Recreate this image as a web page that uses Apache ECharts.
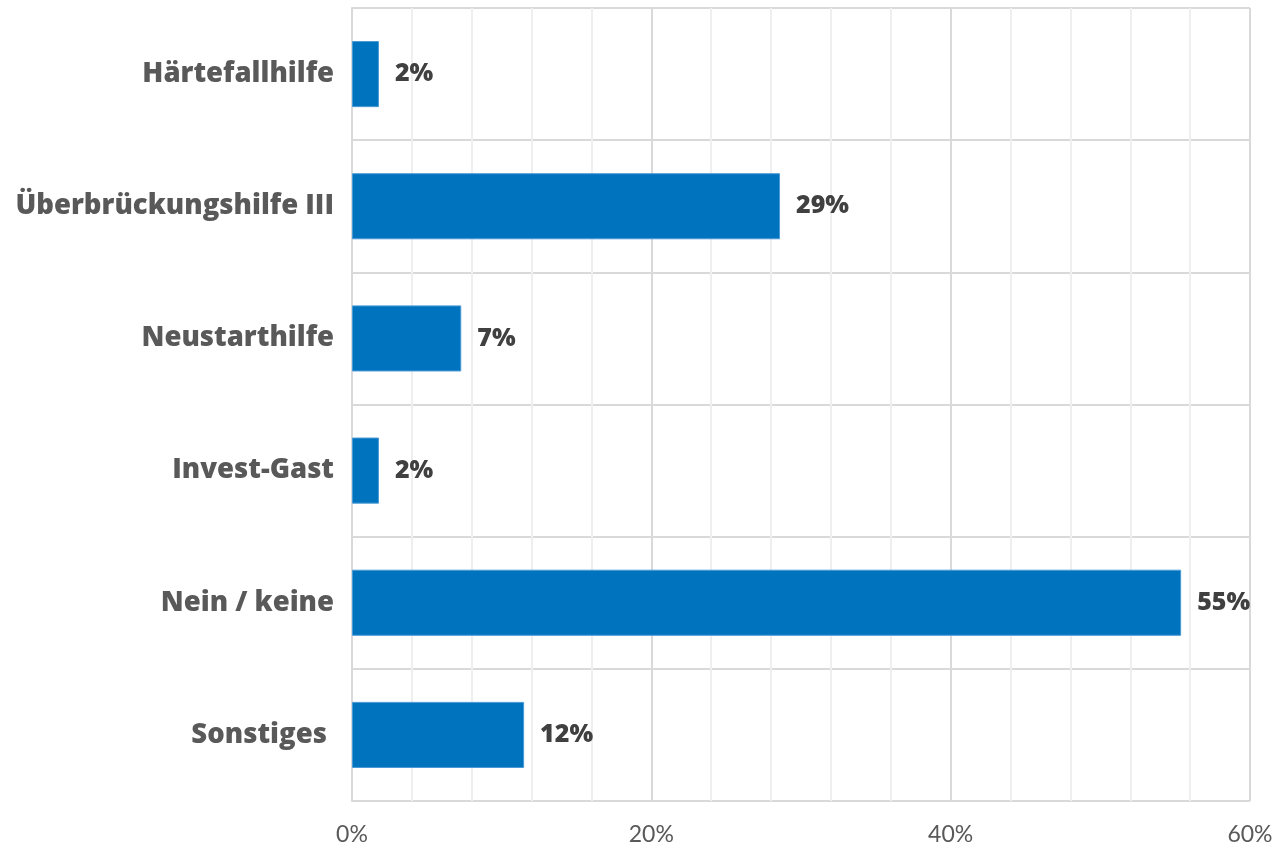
<!DOCTYPE html>
<html>
<head>
<meta charset="utf-8">
<script src="https://cdn.jsdelivr.net/npm/echarts@6/dist/echarts.min.js"></script>
<style>html,body{margin:0;padding:0;background:#fff}#c{width:1278px;height:846px}</style>
</head>
<body>
<div id="c"></div>
<script>
const categories = ["Härtefallhilfe", "Überbrückungshilfe III", "Neustarthilfe", "Invest-Gast", "Nein / keine", "Sonstiges "];
const values = [1.8, 28.6, 7.3, 1.8, 55.4, 11.5];
const axisMin = 0, axisMax = 60, axisInterval = 20;

const chart = echarts.init(document.getElementById('c'));
chart.setOption({
  animation: false,
  grid: { left: 352, right: 28, top: 8, bottom: 41, containLabel: false },
  xAxis: {
    type: 'value', min: axisMin, max: axisMax, interval: axisInterval,
    axisLine: { show: false }, axisTick: { show: false },
    axisLabel: { formatter: v => v + '%', color: '#595959', fontFamily: 'Lato', fontSize: 23, margin: 22 },
    splitLine: { show: true, lineStyle: { color: '#d9d9d9', width: 2 } },
    minorTick: { show: false, splitNumber: 5 },
    minorSplitLine: { show: true, lineStyle: { color: '#efefef', width: 2 } }
  },
  yAxis: {
    type: 'category', data: categories, inverse: true,
    axisLine: { show: true, lineStyle: { color: '#d9d9d9', width: 2 } },
    axisTick: { show: false },
    axisLabel: { color: '#595959', fontFamily: 'Open Sans', fontWeight: 800, fontSize: 27.5, margin: 18 },
    splitLine: { show: true, lineStyle: { color: '#d9d9d9', width: 2 } }
  },
  series: [{
    type: 'bar', data: values, barWidth: '50%',
    itemStyle: { color: '#0073be', borderColor: '#4a9ad6', borderWidth: 1 },
    label: { show: true, position: 'right', distance: 16, formatter: p => Math.round(p.value) + '%',
      color: '#404040', fontFamily: 'Open Sans', fontWeight: 800, fontSize: 25 }
  }]
});
</script>
</body>
</html>
